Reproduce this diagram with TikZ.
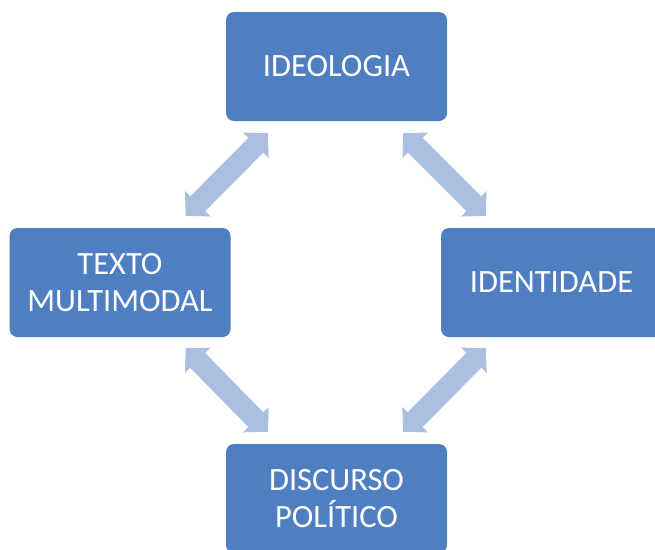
\documentclass[tikz,border=0pt]{standalone}
\usepackage{fontspec}
\setmainfont{Carlito}
\usetikzlibrary{arrows.meta,positioning,calc}
\definecolor{boxblue}{HTML}{4F7FC0}
\definecolor{arrowblue}{HTML}{ABBFE0}

\begin{document}
\begin{tikzpicture}[x=1pt,y=-1pt,
  box/.style={fill=boxblue,rounded corners=8pt,minimum width=221pt,minimum height=109pt,
    text=white,align=center,font=\fontsize{32.5}{37}\selectfont},
  biarrow/.style={draw=arrowblue,line width=21pt,
    {Triangle[width=35pt,length=17pt]}-{Triangle[width=35pt,length=17pt]}}]
\useasboundingbox (0,0) rectangle (655,549);
\clip (0,0) rectangle (655,549);
\node[box] (ideo) at (336.5,66.5) {IDEOLOGIA};
\node[box] (texto) at (120,282.5) {TEXTO\\MULTIMODAL};
\node[box] (ident) at (551.5,282.5) {IDENTIDADE};
\node[box] (disc) at (336.5,498.5) {DISCURSO\\POLÍTICO};
\draw[biarrow] ([xshift=42pt,yshift=-12pt]ideo.south west) -- ([xshift=-45pt,yshift=12pt]texto.north east);
\draw[biarrow] ([xshift=-44pt,yshift=-12pt]ideo.south east) -- ([xshift=45pt,yshift=12pt]ident.north west);
\draw[biarrow] ([xshift=-45pt,yshift=-11pt]texto.south east) -- ([xshift=42pt,yshift=12pt]disc.north west);
\draw[biarrow] ([xshift=45pt,yshift=-11pt]ident.south west) -- ([xshift=-44pt,yshift=12pt]disc.north east);
\end{tikzpicture}
\end{document}
